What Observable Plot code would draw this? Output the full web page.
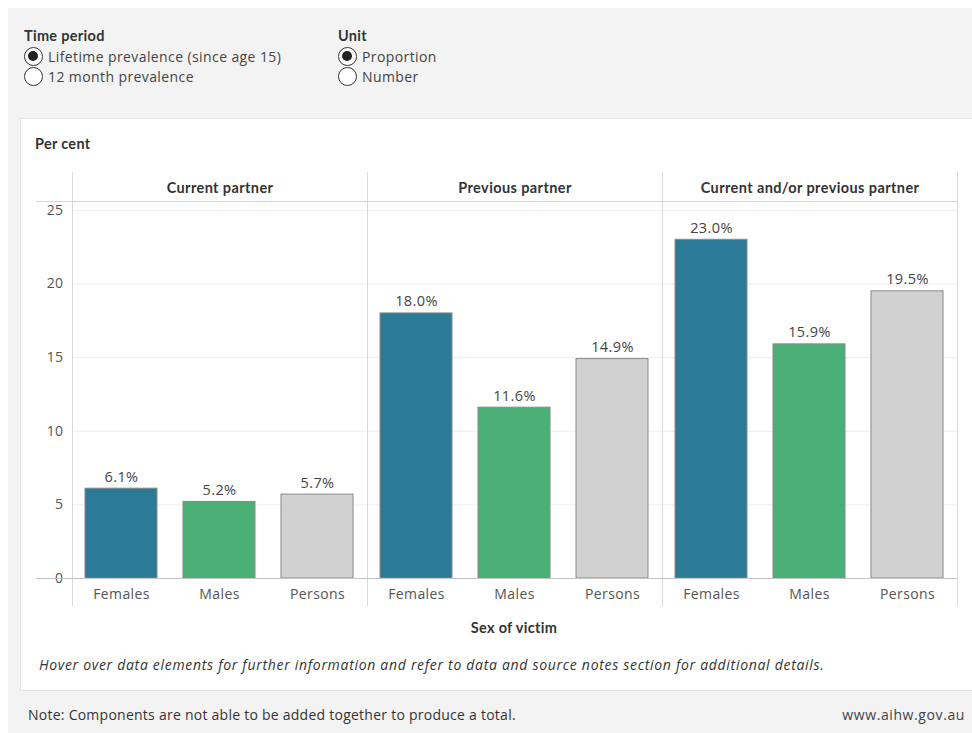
<!DOCTYPE html>
<html>
<head>
<meta charset="utf-8">
<script src="https://cdn.jsdelivr.net/npm/d3@7"></script>
<script src="https://cdn.jsdelivr.net/npm/@observablehq/plot@0.6"></script>
<style>
  html, body { margin: 0; padding: 0; }
  body { width: 972px; height: 733px; position: relative; background: #ffffff; overflow: hidden;
         font-family: "Open Sans", sans-serif; color: #333; }
  #bg { position: absolute; left: 8px; top: 8px; right: 0; bottom: 0; background: #f3f3f3; }
  #panel { position: absolute; left: 20px; top: 118px; width: 960px; height: 571px; background: #fff;
           border: 1px solid #e4e4e4; }
  .abs { position: absolute; white-space: nowrap; }
  .hdr { font-family: Lato, sans-serif; font-weight: bold; font-size: 14.5px; color: #333; letter-spacing: 0.3px; }
  .opt { font-size: 14px; color: #444; display: flex; align-items: center; letter-spacing: 0.4px; }
  .radio { width: 19px; height: 19px; border: 1.3px solid #333; border-radius: 50%; box-sizing: border-box;
           margin-right: 5px; position: relative; background: #fff; flex: none; }
  .radio.on::after { content: ""; position: absolute; left: 3.2px; top: 3.2px; width: 10px; height: 10px;
           border-radius: 50%; background: #222; }
  #chart { position: absolute; left: 0; top: 172px; }
  #chart svg text { letter-spacing: 0.4px; }
</style>
</head>
<body>
<div id="bg"></div>
<div id="panel"></div>

<div class="abs hdr" style="left:24px; top:27px;">Time period</div>
<div class="abs opt" style="left:24px; top:47px;"><span class="radio on"></span>Lifetime prevalence (since age 15)</div>
<div class="abs opt" style="left:24px; top:67px;"><span class="radio"></span>12 month prevalence</div>
<div class="abs hdr" style="left:338px; top:27px;">Unit</div>
<div class="abs opt" style="left:338px; top:47px;"><span class="radio on"></span>Proportion</div>
<div class="abs opt" style="left:338px; top:67px;"><span class="radio"></span>Number</div>

<div class="abs hdr" style="left:35px; top:135px;">Per cent</div>
<div id="chart"></div>
<div class="abs hdr" style="left:0; width:1028px; text-align:center; top:619px;">Sex of victim</div>
<div class="abs" style="left:39px; top:655px; font-size:14px; font-style:italic; color:#333; letter-spacing:0.7px;">Hover over data elements for further information and refer to data and source notes section for additional details.</div>
<div class="abs" style="left:28px; top:705px; font-size:14px; color:#333; letter-spacing:0.25px;">Note: Components are not able to be added together to produce a total.</div>
<div class="abs" style="right:7px; top:705px; font-size:14px; color:#444; letter-spacing:0.6px;">www.aihw.gov.au</div>

<script>
const partners = ["Current partner", "Previous partner", "Current and/or previous partner"];
const sexes = ["Females", "Males", "Persons"];
const currentPartner = [6.1, 5.2, 5.7];
const previousPartner = [18.0, 11.6, 14.9];
const eitherPartner = [23.0, 15.9, 19.5];
const yTicks = [0, 5, 10, 15, 20, 25];
const colors = ["#2c7b96", "#4bb075", "#d0d1d0"];

const series = [currentPartner, previousPartner, eitherPartner];
const data = [];
partners.forEach((p, i) => sexes.forEach((s, j) => data.push({partner: p, sex: s, value: series[i][j]})));

const chart = Plot.plot({
  width: 972,
  height: 470,
  marginLeft: 71,
  marginRight: 15,
  marginTop: 29,
  marginBottom: 64,
  style: {fontFamily: "'Open Sans', sans-serif", fontSize: "14px", color: "#555", background: "transparent"},
  fx: {domain: partners, padding: 0, axis: null},
  x: {domain: sexes, paddingInner: 0.263, paddingOuter: 0.131, tickSize: 0, tickPadding: 11, label: null},
  y: {domain: [0, 25.6], ticks: yTicks, tickSize: 0, tickPadding: 9, label: null},
  color: {domain: sexes, range: colors},
  marks: [
    Plot.ruleY(yTicks.filter(d => d > 0), {stroke: "#ededed", strokeOpacity: 1}),
    Plot.frame({anchor: "left", stroke: "#d9d9d9", strokeOpacity: 1, insetTop: -29, insetBottom: -27}),
    Plot.frame({anchor: "right", stroke: "#d9d9d9", strokeOpacity: 1, insetTop: -29, insetBottom: -27}),
    Plot.frame({anchor: "top", stroke: "#d4d4d4", strokeOpacity: 1, insetLeft: -36}),
    Plot.barY(data, {fx: "partner", x: "sex", y: "value", fill: "sex", stroke: "#8a8a8a", strokeWidth: 1}),
    Plot.ruleY([0], {stroke: "#c4c4c4", strokeOpacity: 1, insetLeft: -36}),
    Plot.text(data, {fx: "partner", x: "sex", y: "value", text: d => d.value.toFixed(1) + "%",
      dy: -7, lineAnchor: "bottom", fill: "#444", fontSize: 14.5}),
    Plot.text(partners, {fx: d => d, text: d => d, frameAnchor: "top", dy: -9, lineAnchor: "bottom",
      fontFamily: "Lato, sans-serif", fontWeight: "bold", fontSize: 14.5, fill: "#333"})
  ]
});
document.getElementById("chart").appendChild(chart);
</script>
</body>
</html>
